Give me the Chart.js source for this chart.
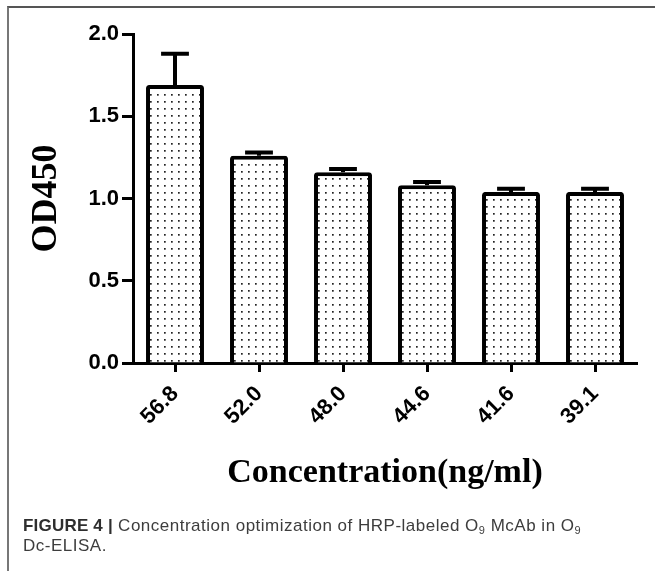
<!DOCTYPE html>
<html>
<head>
<meta charset="utf-8">
<script src="https://cdn.jsdelivr.net/npm/chart.js@4.4.1/dist/chart.umd.min.js"></script>
<style>
  html, body { margin: 0; padding: 0; background: #fff; }
  #wrap { position: relative; width: 655px; height: 571px; overflow: hidden; }
  #frame { position: absolute; left: 7px; top: 6px; width: 660px; height: 580px;
           border-top: 2px solid #555; border-left: 2px solid #777; }
  #plot { position: absolute; left: 0; top: 0; }
  #caption { position: absolute; left: 23px; top: 516px; font-family: "Liberation Sans", Arial, sans-serif;
             font-size: 17px; letter-spacing: 0.5px; line-height: 20px; color: #3d3d3d; white-space: nowrap; }
  #caption b { color: #2e2e2e; letter-spacing: 0.2px; }
  #caption sub { font-size: 11px; vertical-align: -3px; line-height: 0; }
</style>
</head>
<body>
<div id="wrap">
  <div id="frame"></div>
  <canvas id="plot" width="655" height="571"></canvas>
  <div id="caption"><b>FIGURE 4 |</b> Concentration optimization of HRP-labeled O<sub>9</sub> McAb in O<sub>9</sub><br>Dc-ELISA.</div>
</div>
<script>
// concentrations (ng/ml) and mean OD450 with upper SD
const concLabels = ['56.8', '52.0', '48.0', '44.6', '41.6', '39.1'];
const od450 = [1.69, 1.26, 1.16, 1.08, 1.04, 1.04];
const od450Sd = [0.19, 0.02, 0.02, 0.02, 0.02, 0.02];
const yTicks = [0, 0.5, 1.0, 1.5, 2.0];

// dotted fill for the bars
function dotPattern() {
  const c = document.createElement('canvas');
  c.width = 7; c.height = 7;
  const g = c.getContext('2d');
  g.fillStyle = '#fff';
  g.fillRect(0, 0, 7, 7);
  g.fillStyle = '#222';
  g.fillRect(3, 3, 1.7, 1.7);
  return g.createPattern(c, 'repeat');
}

// upper error bars with caps
const errorBars = {
  id: 'errorBars',
  afterDatasetsDraw(chart) {
    const { ctx } = chart;
    const y = chart.scales.y;
    const meta = chart.getDatasetMeta(0);
    ctx.save();
    ctx.strokeStyle = '#000';
    ctx.lineWidth = 4;
    meta.data.forEach((bar, i) => {
      const top = y.getPixelForValue(od450[i] + od450Sd[i]);
      const half = bar.width * 0.24;
      ctx.beginPath();
      ctx.moveTo(bar.x, bar.y);
      ctx.lineTo(bar.x, top);
      ctx.moveTo(bar.x - half, top);
      ctx.lineTo(bar.x + half, top);
      ctx.stroke();
    });
    ctx.restore();
  }
};

const tickFont = { family: 'Liberation Sans', size: 22, weight: 'bold' };

new Chart(document.getElementById('plot'), {
  type: 'bar',
  data: {
    labels: concLabels,
    datasets: [{
      data: od450,
      backgroundColor: dotPattern(),
      borderColor: '#000',
      borderWidth: 4,
      borderRadius: 3,
      barPercentage: 0.69,
      categoryPercentage: 1.0,
    }]
  },
  options: {
    responsive: false,
    animation: false,
    events: [],
    layout: { padding: { left: 25, top: 34, right: 18, bottom: 77.6 } },
    plugins: { legend: { display: false }, tooltip: { enabled: false } },
    scales: {
      x: {
        z: 1,
        afterFit: s => { s.height = 130.4; },
        grid: { offset: false, drawOnChartArea: false, tickLength: 9, tickWidth: 3, tickColor: '#000' },
        border: { color: '#000', width: 3 },
        ticks: { color: '#000', font: tickFont, minRotation: 45, maxRotation: 45, padding: 9 },
        title: {
          display: true, text: 'Concentration(ng/ml)', color: '#000', padding: 0,
          font: { family: 'Liberation Serif', size: 34, weight: 'bold' }
        }
      },
      y: {
        z: 1,
        min: 0, max: 2,
        afterFit: s => { s.width = 108; },
        afterBuildTicks: s => { s.ticks = yTicks.map(v => ({ value: v })); },
        grid: { drawOnChartArea: false, tickLength: 11, tickWidth: 3, tickColor: '#000' },
        border: { color: '#000', width: 3 },
        ticks: { color: '#000', font: tickFont, padding: 3, callback: v => v.toFixed(1) },
        title: {
          display: true, text: 'OD450', color: '#000', padding: 0,
          font: { family: 'Liberation Serif', size: 36, weight: 'bold' }
        }
      }
    }
  },
  plugins: [errorBars]
});
</script>
</body>
</html>
